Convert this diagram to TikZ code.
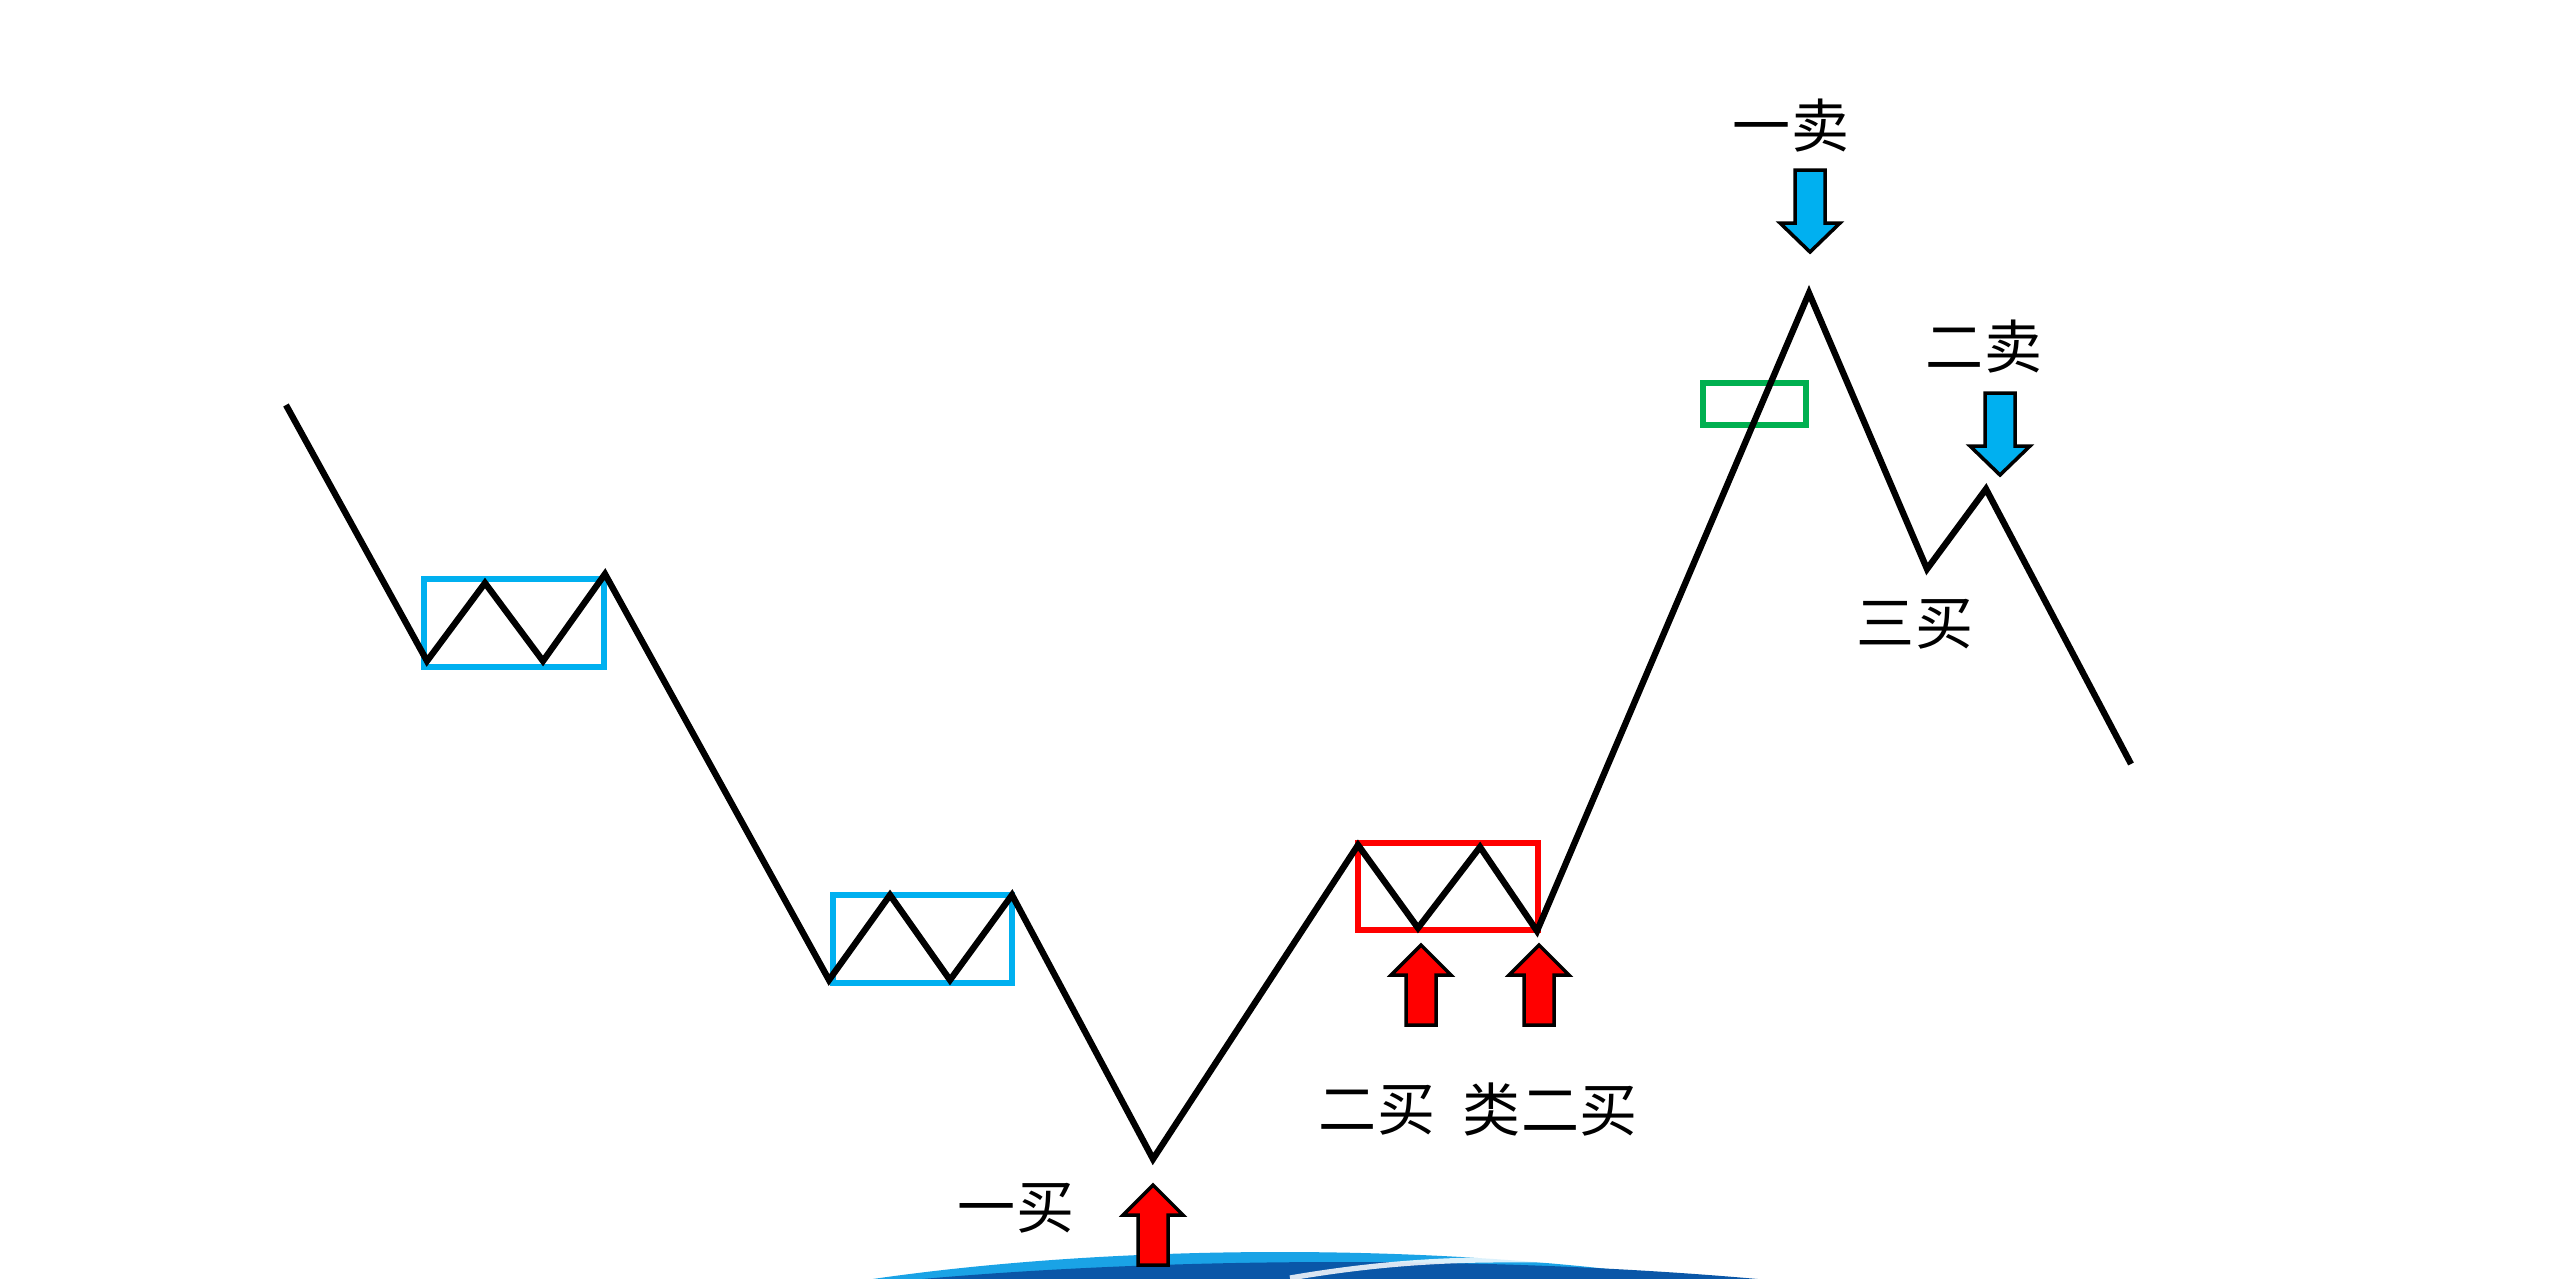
\documentclass[tikz,border=0pt]{standalone}
\usepackage{fontspec}
\newfontfamily\cjk{Noto Sans CJK SC}
\definecolor{boxblue}{HTML}{00B0F0}
\definecolor{boxred}{HTML}{FF0000}
\definecolor{boxgreen}{HTML}{00B050}
\definecolor{swlight}{HTML}{1AA3E6}
\definecolor{swdark}{HTML}{0A57A8}
\tikzset{
  trend/.style={line width=1.8pt, line join=miter, black},
  zonebox/.style={line width=1.8pt},
  lbl/.style={font=\cjk\fontsize{16.5}{18}\selectfont, inner sep=0pt},
  buyarrow/.style={fill=boxred, draw=black, line width=1pt, line join=miter},
  sellarrow/.style={fill=boxblue, draw=black, line width=1pt, line join=miter},
  pics/uparrow/.style={code={
    \path[buyarrow] (0,0) -- (30,30) -- (15,30) -- (15,80) -- (-15,80) -- (-15,30) -- (-30,30) -- cycle;}},
  pics/downarrow/.style={code={
    \path[sellarrow] (0,0) -- (30,-29) -- (15,-29) -- (15,-82) -- (-15,-82) -- (-15,-29) -- (-30,-29) -- cycle;}},
}
\begin{document}
\begin{tikzpicture}[x=0.01cm, y=-0.01cm]
\useasboundingbox (0,0) rectangle (2560,1278);
% bottom swoosh
\begin{scope}
  \clip (0,0) rectangle (2560,1278);
  \fill[swlight] (1280,1446) ellipse [x radius=800, y radius=194];
  \fill[swdark] (1340,1384) ellipse [x radius=820, y radius=122];
  \draw[white, line width=1.5pt, opacity=0.85] (1290,1278) .. controls (1360,1266) and (1420,1261) .. (1480,1260)
     .. controls (1620,1258) and (1760,1266) .. (1840,1276);
\end{scope}
% trend coordinates
\coordinate (p0) at (286,405);
\coordinate (p1) at (427,661);
\coordinate (p2) at (485,583);
\coordinate (p3) at (543,661);
\coordinate (p4) at (605,574);
\coordinate (p5) at (829,980);
\coordinate (p6) at (890,895);
\coordinate (p7) at (950,980);
\coordinate (p8) at (1012,895);
\coordinate (p9) at (1153,1159);
\coordinate (p10) at (1358,845);
\coordinate (p11) at (1418,928);
\coordinate (p12) at (1480,847);
\coordinate (p13) at (1537,931);
\coordinate (p14) at (1809,293);
\coordinate (p15) at (1927,569);
\coordinate (p16) at (1986,489);
\coordinate (p17) at (2131,764);
% zone boxes
\draw[zonebox, boxblue] (424,579) rectangle (604,667);
\draw[zonebox, boxblue] (833,895) rectangle (1012,983);
\draw[zonebox, boxred] (1358,843) rectangle (1538,930);
\draw[zonebox, boxgreen] (1703,383) rectangle (1806,425);
% trend line
\draw[trend] (p0) -- (p1) -- (p2) -- (p3) -- (p4) -- (p5) -- (p6) -- (p7) -- (p8) -- (p9)
  -- (p10) -- (p11) -- (p12) -- (p13) -- (p14) -- (p15) -- (p16) -- (p17);
% arrows
\pic at (1153,1185) {uparrow};
\pic at (1421,945) {uparrow};
\pic at (1539,945) {uparrow};
\pic at (1810,252) {downarrow};
\pic at (2000,475) {downarrow};
% labels
\node[lbl] (b1) at (1016,1208) {一买};
\node[lbl] (b2) at (1377,1110) {二买};
\node[lbl] (b2s) at (1550,1110) {类二买};
\node[lbl] (b3) at (1915,624) {三买};
\node[lbl] (s1) at (1791,126) {一卖};
\node[lbl] (s2) at (1984,347) {二卖};
\end{tikzpicture}
\end{document}
